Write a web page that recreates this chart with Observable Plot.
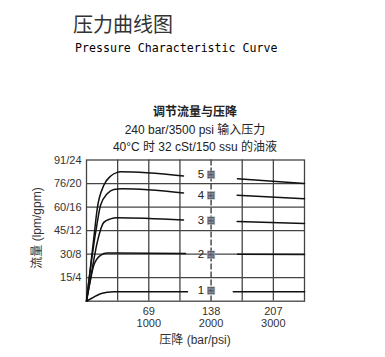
<!DOCTYPE html>
<html>
<head>
<meta charset="utf-8">
<script src="https://cdn.jsdelivr.net/npm/d3@7"></script>
<script src="https://cdn.jsdelivr.net/npm/@observablehq/plot@0.6"></script>
<style>
  body { margin: 0; background: #fff; }
  #wrap { position: relative; width: 385px; height: 357px; overflow: hidden; }
  .t { position: absolute; white-space: nowrap; color: #222; }
  #title { left: 73px; top: 13px; font: 20px/22px "Noto Sans CJK SC", sans-serif; color: #333; }
  #sub { left: 75px; top: 41px; font: 11.6px/14px "DejaVu Sans Mono", "Liberation Mono", monospace; color: #000; }
  #head { left: 86px; width: 218px; top: 104px; text-align: center; font: 12px/17.5px "Liberation Sans", Arial, "Noto Sans CJK SC", sans-serif; color: #222; }
  #ylab { left: 35px; top: 228px; transform: translate(-50%, -50%) rotate(-90deg); font: 12px "Liberation Sans", Arial, "Noto Sans CJK SC", sans-serif; color: #333; }
  #xlab { left: 86px; width: 218px; top: 332px; text-align: center; font: 12px/16px "Liberation Sans", Arial, "Noto Sans CJK SC", sans-serif; color: #333; }
  svg { position: absolute; left: 0; top: 0; }
</style>
</head>
<body>
<div id="wrap">
  <div class="t" id="title">压力曲线图</div>
  <div class="t" id="sub">Pressure Characteristic Curve</div>
  <div class="t" id="head"><b>调节流量与压降</b><br>240 bar/3500 psi 输入压力<br>40°C 时 32 cSt/150 ssu 的油液</div>
  <div class="t" id="ylab">流量 (lpm/gpm)</div>
  <div class="t" id="xlab">压降 (bar/psi)</div>
</div>
<script>
// Tick values and labels
const xTicksPsi = [1000, 2000, 3000];
const xTicksBar = ["69", "138", "207"];
const xGridPsi = [500, 1000, 1500, 2500, 3000];
const xCenterPsi = [2000];
const yTicksGpm = [4, 8, 12, 16, 20, 24];
const yTickLabels = ["15/4", "30/8", "45/12", "60/16", "76/20", "91/24"];
const yGridGpm = [4, 8, 12, 16, 20];

// Curves (psi, gpm) for each number of turns; left and right of the label gap
const turn1Left  = [[0,0],[60,0.35],[117,0.7],[225,1.26],[332,1.53],[439,1.62],[1622,1.62]];
const turn1Right = [[2357,1.6],[3500,1.6]];
const turn2Left  = [[0,0],[60,3.4],[117,6.1],[225,7.8],[332,8.2],[439,8.2],[1590,8.1]];
const turn2Right = [[2425,8.0],[3500,7.95]];
const turn3Left  = [[0,0],[100,6.0],[172,10.0],[278,13.4],[385,14.0],[493,14.2],[1557,13.8]];
const turn3Right = [[2419,13.55],[3500,13.2]];
const turn4Left  = [[0,0],[92,7.8],[172,13.3],[225,16.3],[332,18.25],[439,19.0],[573,19.1],[1557,18.4]];
const turn4Right = [[2419,18.0],[3500,17.4]];
const turn5Left  = [[0,0],[117,10.7],[172,15.7],[278,19.7],[385,21.25],[493,21.9],[546,22.0],[1557,21.3]];
const turn5Right = [[2424,20.8],[3500,20.0]];

// Labels
const turnNames = ["1", "2", "3", "4", "5"];
const turnLabelGpm = [1.8, 7.9, 13.7, 18.0, 21.5];

const segments = [turn1Left, turn1Right, turn2Left, turn2Right, turn3Left, turn3Right,
                  turn4Left, turn4Right, turn5Left, turn5Right];
const rows = segments.flatMap((seg, k) => seg.map(([psi, gpm]) => ({psi, gpm, k})));
const labels = turnNames.map((n, i) => ({n, gpm: turnLabelGpm[i], psi: 2000}));

const gridColor = "#444";
const plot = Plot.plot({
  width: 385,
  height: 357,
  marginLeft: 86,
  marginRight: 81,
  marginTop: 159.5,
  marginBottom: 56.3,
  style: {fontFamily: "'Liberation Sans', Arial, sans-serif", fontSize: "11px", color: "#333", background: "transparent"},
  x: {domain: [0, 3500]},
  y: {domain: [0, 24]},
  marks: [
    Plot.ruleX(xGridPsi, {stroke: gridColor, strokeWidth: 1.3}),
    Plot.ruleX(xCenterPsi, {stroke: "#333", strokeWidth: 1.3, strokeDasharray: "6,2"}),
    Plot.ruleY(yGridGpm, {stroke: gridColor, strokeWidth: 1.3}),
    Plot.frame({stroke: gridColor, strokeWidth: 1.3}),
    Plot.line(rows, {x: "psi", y: "gpm", z: "k", stroke: "#111", strokeWidth: 1.5, curve: "monotone-x"}),
    Plot.text(labels, {x: "psi", y: "gpm", text: "n", dx: -10, fontSize: 11.5, fill: "#222"}),
    Plot.dot(labels, {x: "psi", y: "gpm", symbol: "square", r: 4.6, fill: "#a9aab3", stroke: "none"}),
    Plot.text(labels, {x: "psi", y: "gpm", text: () => "圈", fontSize: 7, fill: "#333", fontFamily: "'Noto Sans CJK SC', sans-serif"}),
    Plot.axisX(xTicksPsi, {tickSize: 0, tickPadding: 5, tickFormat: (d, i) => xTicksBar[i] + "\n" + d, lineHeight: 1.1, fontSize: 11, fill: "#333", label: null}),
    Plot.axisY(yTicksGpm, {tickSize: 0, tickPadding: 5, tickFormat: (d, i) => yTickLabels[i], fontSize: 11, fill: "#333", label: null})
  ]
});
document.getElementById("wrap").appendChild(plot);
</script>
</body>
</html>
